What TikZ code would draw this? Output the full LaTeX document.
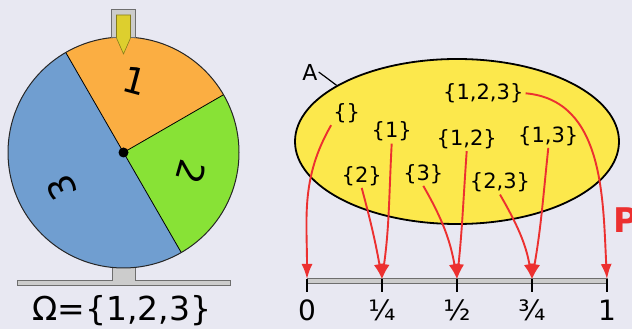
\documentclass[tikz,border=0pt]{standalone}
\usepackage{fontspec}
\setmainfont{DejaVu Sans}
\usetikzlibrary{arrows.meta,shapes.geometric}
\definecolor{bgcol}{RGB}{232,232,242}
\definecolor{wheelorange}{RGB}{251,174,66}
\definecolor{wheelgreen}{RGB}{136,226,54}
\definecolor{wheelblue}{RGB}{112,158,208}
\definecolor{standgray}{RGB}{204,204,204}
\definecolor{standline}{RGB}{110,110,110}
\definecolor{pinyellow}{RGB}{221,207,46}
\definecolor{setyellow}{RGB}{252,232,76}
\definecolor{mapred}{RGB}{236,48,48}

\begin{document}
\begin{tikzpicture}[x=1pt,y=1pt,
  setlbl/.style={font=\fontsize{21}{25}\selectfont,inner sep=2pt},
  numlbl/.style={font=\fontsize{28}{32}\selectfont,anchor=base},
  wheellbl/.style={font=\fontsize{36}{40}\selectfont,inner sep=0pt},
  maparrow/.style={draw=mapred,line width=1.9pt,-{Latex[length=15pt,width=11pt]}}]
\clip (0,0) rectangle (632,329);
\fill[bgcol] (0,0) rectangle (632,329);
\filldraw[fill=standgray,draw=standline,line width=0.8pt] (17,43.3) rectangle (230,48.3);
\fill[standgray] (112,43.8) rectangle (135,80);
\draw[standline,line width=0.8pt] (112,48.3) -- (112,80) (135,48.3) -- (135,80);
\coordinate (c) at (123.5,176.5);
\fill[wheelorange] (c) -- ++(30:115.5) arc[start angle=30,end angle=120,radius=115.5] -- cycle;
\fill[wheelgreen] (c) -- ++(-60:115.5) arc[start angle=-60,end angle=30,radius=115.5] -- cycle;
\fill[wheelblue] (c) -- ++(120:115.5) arc[start angle=120,end angle=300,radius=115.5] -- cycle;
\draw[line width=0.8pt] (c) -- ++(30:115.5) (c) -- ++(120:115.5) (c) -- ++(-60:115.5);
\draw[black!85,line width=1pt] (c) circle[radius=115.5];
\fill (c) circle[radius=5];
\node[wheellbl,rotate=-15] (one) at ([shift={(81:73)}]c) {1};
\node[wheellbl,rotate=-106] (two) at ([shift={(-16:70)}]c) {2};
\node[wheellbl,rotate=115] (three) at ([shift={(210:71)}]c) {3};
\filldraw[fill=standgray,draw=standline,line width=0.8pt] (111,292) rectangle (135,320);
\filldraw[fill=pinyellow,draw=pinyellow!60!black,line width=0.6pt] (116.5,314) -- (130.5,314) -- (130.5,291) -- (123.5,275) -- (116.5,291) -- cycle;
\node[font=\fontsize{33}{38}\selectfont,anchor=base] (omega) at (122,8) {Ω=\{1,2,3\}};

\node[ellipse,draw,line width=1.8pt,fill=setyellow,minimum width=324,minimum height=165,inner sep=0pt] (A) at (457,187.5) {};
\node[font=\fontsize{22}{26}\selectfont,inner sep=1pt] (lblA) at (310,257) {A};
\draw[line width=1.2pt] (lblA.east) -- (A.155);
\node[setlbl] (s0) at (346.7,215.7) {\{\}};
\node[setlbl] (s1) at (391.7,197.3) {\{1\}};
\node[setlbl] (s2) at (361.7,153) {\{2\}};
\node[setlbl] (s3) at (423.3,155) {\{3\}};
\node[setlbl] (s12) at (466.7,189.7) {\{1,2\}};
\node[setlbl] (s13) at (548.3,193) {\{1,3\}};
\node[setlbl] (s23) at (500,146.3) {\{2,3\}};
\node[setlbl] (s123) at (483.3,235.7) {\{1,2,3\}};

\filldraw[fill=standgray,draw=standline,line width=1pt] (307,45.5) rectangle (607,50.5);
\foreach \x/\lbl/\nm in {307/0/t0,382/¼/t1,457/½/t2,532/¾/t3,607/1/t4}{
  \draw[line width=2.5pt] (\x,37) -- (\x,50);
  \coordinate (\nm) at (\x,50);
  \node[numlbl] (n\nm) at (\x,8) {\lbl};
}
\draw[maparrow] (s0.south west) to[out=-120,in=90] (t0);
\draw[maparrow] (s1.south) to[out=-93,in=82] (t1);
\draw[maparrow] (s2.south) to[out=-75,in=100] (t1);
\draw[maparrow] (s12.south) to[out=-94,in=84] (t2);
\draw[maparrow] (s3.south) to[out=-60,in=100] (t2);
\draw[maparrow] (s13.south) to[out=-96,in=80] (t3);
\draw[maparrow] (s23.south) to[out=-60,in=100] (t3);
\draw[maparrow] (s123.east) to[out=-5,in=93] (t4);
\node[text=mapred,font=\bfseries\fontsize{34}{40}\selectfont,anchor=base west,inner sep=0pt] (P) at (613,96) {P};
\end{tikzpicture}
\end{document}
